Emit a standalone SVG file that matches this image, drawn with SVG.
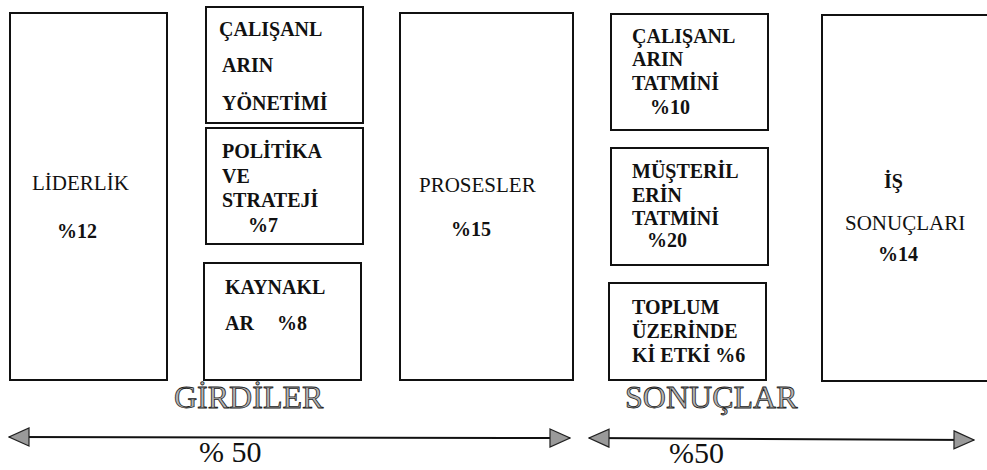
<svg xmlns="http://www.w3.org/2000/svg" width="987" height="470" viewBox="0 0 987 470">
<style>
.box{fill:#fff;stroke:#111;stroke-width:2}
.t{font-size:20px;font-weight:bold;fill:#111}
.r{font-size:21px;font-weight:normal;fill:#111}
.big{font-size:32px;fill:#b4b4b4;stroke:#222;stroke-width:0.8}
.pct{font-size:30px;fill:#111}
.ln{stroke:#111;stroke-width:2;fill:none}
</style>
<defs>
<marker id="ah" markerUnits="userSpaceOnUse" viewBox="0 0 22 20" markerWidth="22" markerHeight="20" refX="21" refY="10" orient="auto-start-reverse">
<path d="M1,1 L21,10 L1,19 z" fill="#9a9a9a" stroke="#222" stroke-width="1.2"/>
</marker>
</defs>
<rect width="987" height="470" fill="#fff"/>
<g font-family="Liberation Serif, Tinos, Times New Roman, DejaVu Serif, serif">
<g id="liderlik">
<rect class="box" x="10" y="13" width="157" height="367"/>
<text class="r" x="32" y="190">LİDERLİK</text>
<text class="t" x="57" y="238">%12</text>
</g>
<g id="calisanlarin-yonetimi">
<rect class="box" x="206" y="7" width="157" height="116"/>
<text class="t" x="219" y="36">ÇALIŞANL</text>
<text class="t" x="222" y="72">ARIN</text>
<text class="t" x="222" y="110">YÖNETİMİ</text>
</g>
<g id="politika">
<rect class="box" x="206" y="128" width="157" height="116"/>
<text class="t" x="222" y="158">POLİTİKA</text>
<text class="t" x="222" y="183">VE</text>
<text class="t" x="222" y="207">STRATEJİ</text>
<text class="t" x="248" y="232">%7</text>
</g>
<g id="kaynaklar">
<rect class="box" x="204" y="263" width="157" height="117"/>
<text class="t" x="225" y="294">KAYNAKL</text>
<text class="t" x="225" y="330">AR</text>
<text class="t" x="277" y="330">%8</text>
</g>
<g id="prosesler">
<rect class="box" x="400" y="13" width="173" height="367"/>
<text class="r" x="419" y="192">PROSESLER</text>
<text class="t" x="451" y="236">%15</text>
</g>
<g id="calisanlarin-tatmini">
<rect class="box" x="611" y="14" width="157" height="116"/>
<text class="t" x="632" y="43">ÇALIŞANL</text>
<text class="t" x="632" y="66">ARIN</text>
<text class="t" x="632" y="90">TATMİNİ</text>
<text class="t" x="650" y="114">%10</text>
</g>
<g id="musterilerin-tatmini">
<rect class="box" x="611" y="148" width="157" height="117"/>
<text class="t" x="632" y="178">MÜŞTERİL</text>
<text class="t" x="632" y="202">ERİN</text>
<text class="t" x="632" y="225">TATMİNİ</text>
<text class="t" x="647" y="247">%20</text>
</g>
<g id="toplum">
<rect class="box" x="609" y="283" width="157" height="97"/>
<text class="t" x="632" y="314">TOPLUM</text>
<text class="t" x="632" y="338">ÜZERİNDE</text>
<text class="t" x="632" y="362">Kİ ETKİ %6</text>
</g>
<g id="is-sonuclari">
<rect class="box" x="822" y="15" width="175" height="366"/>
<text class="t" x="884" y="188">İŞ</text>
<text class="r" x="845" y="230">SONUÇLARI</text>
<text class="t" x="878" y="261">%14</text>
</g>
<g id="labels">
<text class="big" x="174" y="408">GİRDİLER</text>
<text class="big" x="625" y="408">SONUÇLAR</text>
<text class="pct" x="199" y="462">% 50</text>
<text class="pct" x="669" y="463">%50</text>
</g>
</g>
<g id="connectors">
<line class="ln" x1="9" y1="437" x2="570" y2="438" marker-start="url(#ah)" marker-end="url(#ah)"/>
<line class="ln" x1="589" y1="438" x2="974" y2="440" marker-start="url(#ah)" marker-end="url(#ah)"/>
</g>
</svg>
